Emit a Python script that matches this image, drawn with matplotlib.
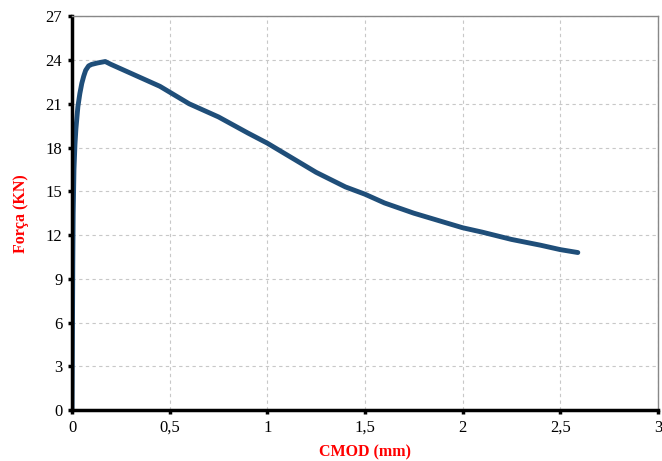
import matplotlib.pyplot as plt
import numpy as np

# curve
cmod = [0, 0.002, 0.004, 0.006, 0.01, 0.015, 0.02, 0.03, 0.04, 0.05, 0.06, 0.07, 0.085,
        0.1, 0.13, 0.17, 0.2, 0.25, 0.3, 0.35, 0.4, 0.45, 0.5, 0.6, 0.75, 0.9, 1.0, 1.1,
        1.25, 1.4, 1.5, 1.6, 1.75, 1.9, 2.0, 2.1, 2.25, 2.4, 2.5, 2.59]
forca = [0, 5, 10, 13.5, 16.5, 18.2, 19.3, 20.8, 21.7, 22.4, 22.9, 23.3, 23.6,
         23.7, 23.8, 23.9, 23.7, 23.4, 23.1, 22.8, 22.5, 22.2, 21.8, 21.0, 20.1, 19.0,
         18.3, 17.5, 16.3, 15.3, 14.8, 14.2, 13.5, 12.9, 12.5, 12.2, 11.7, 11.3, 11.0, 10.8]

xticks = [0, 0.5, 1, 1.5, 2, 2.5, 3]
xlabels = ['0', '0,5', '1', '1,5', '2', '2,5', '3']
yticks = list(range(0, 28, 3))

fig = plt.figure(figsize=(6.62, 4.61), dpi=100)
ax = fig.add_axes([0.1088, 0.1106, 0.885, 0.854])

ax.plot(cmod, forca, color='#1f4e79', lw=3.5, solid_capstyle='round', solid_joinstyle='round')

ax.set_xlim(0, 3)
ax.set_ylim(0, 27)
ax.set_xticks(xticks)
ax.set_xticklabels(xlabels, fontfamily='Liberation Serif', fontsize=12)
ax.set_yticks(yticks)
ax.set_yticklabels([str(v) for v in yticks], fontfamily='Liberation Serif', fontsize=12)
ax.tick_params(direction='out', length=3, width=2.5, colors='black', pad=4)

ax.grid(True, ls=(0, (3, 3)), color='#c8c8c8', lw=0.8)

for s in ['left', 'bottom']:
    ax.spines[s].set_linewidth(2.5)
    ax.spines[s].set_color('black')
for s in ['top', 'right']:
    ax.spines[s].set_linewidth(1)
    ax.spines[s].set_color('#888888')

ax.set_xlabel('CMOD (mm)', color='red', fontweight='bold', fontfamily='Liberation Serif',
              fontsize=11.5, labelpad=6)
ax.set_ylabel('Força (KN)', color='red', fontweight='bold', fontfamily='Liberation Serif',
              fontsize=11.5, labelpad=12)

fig.savefig('out.png', dpi=100)
